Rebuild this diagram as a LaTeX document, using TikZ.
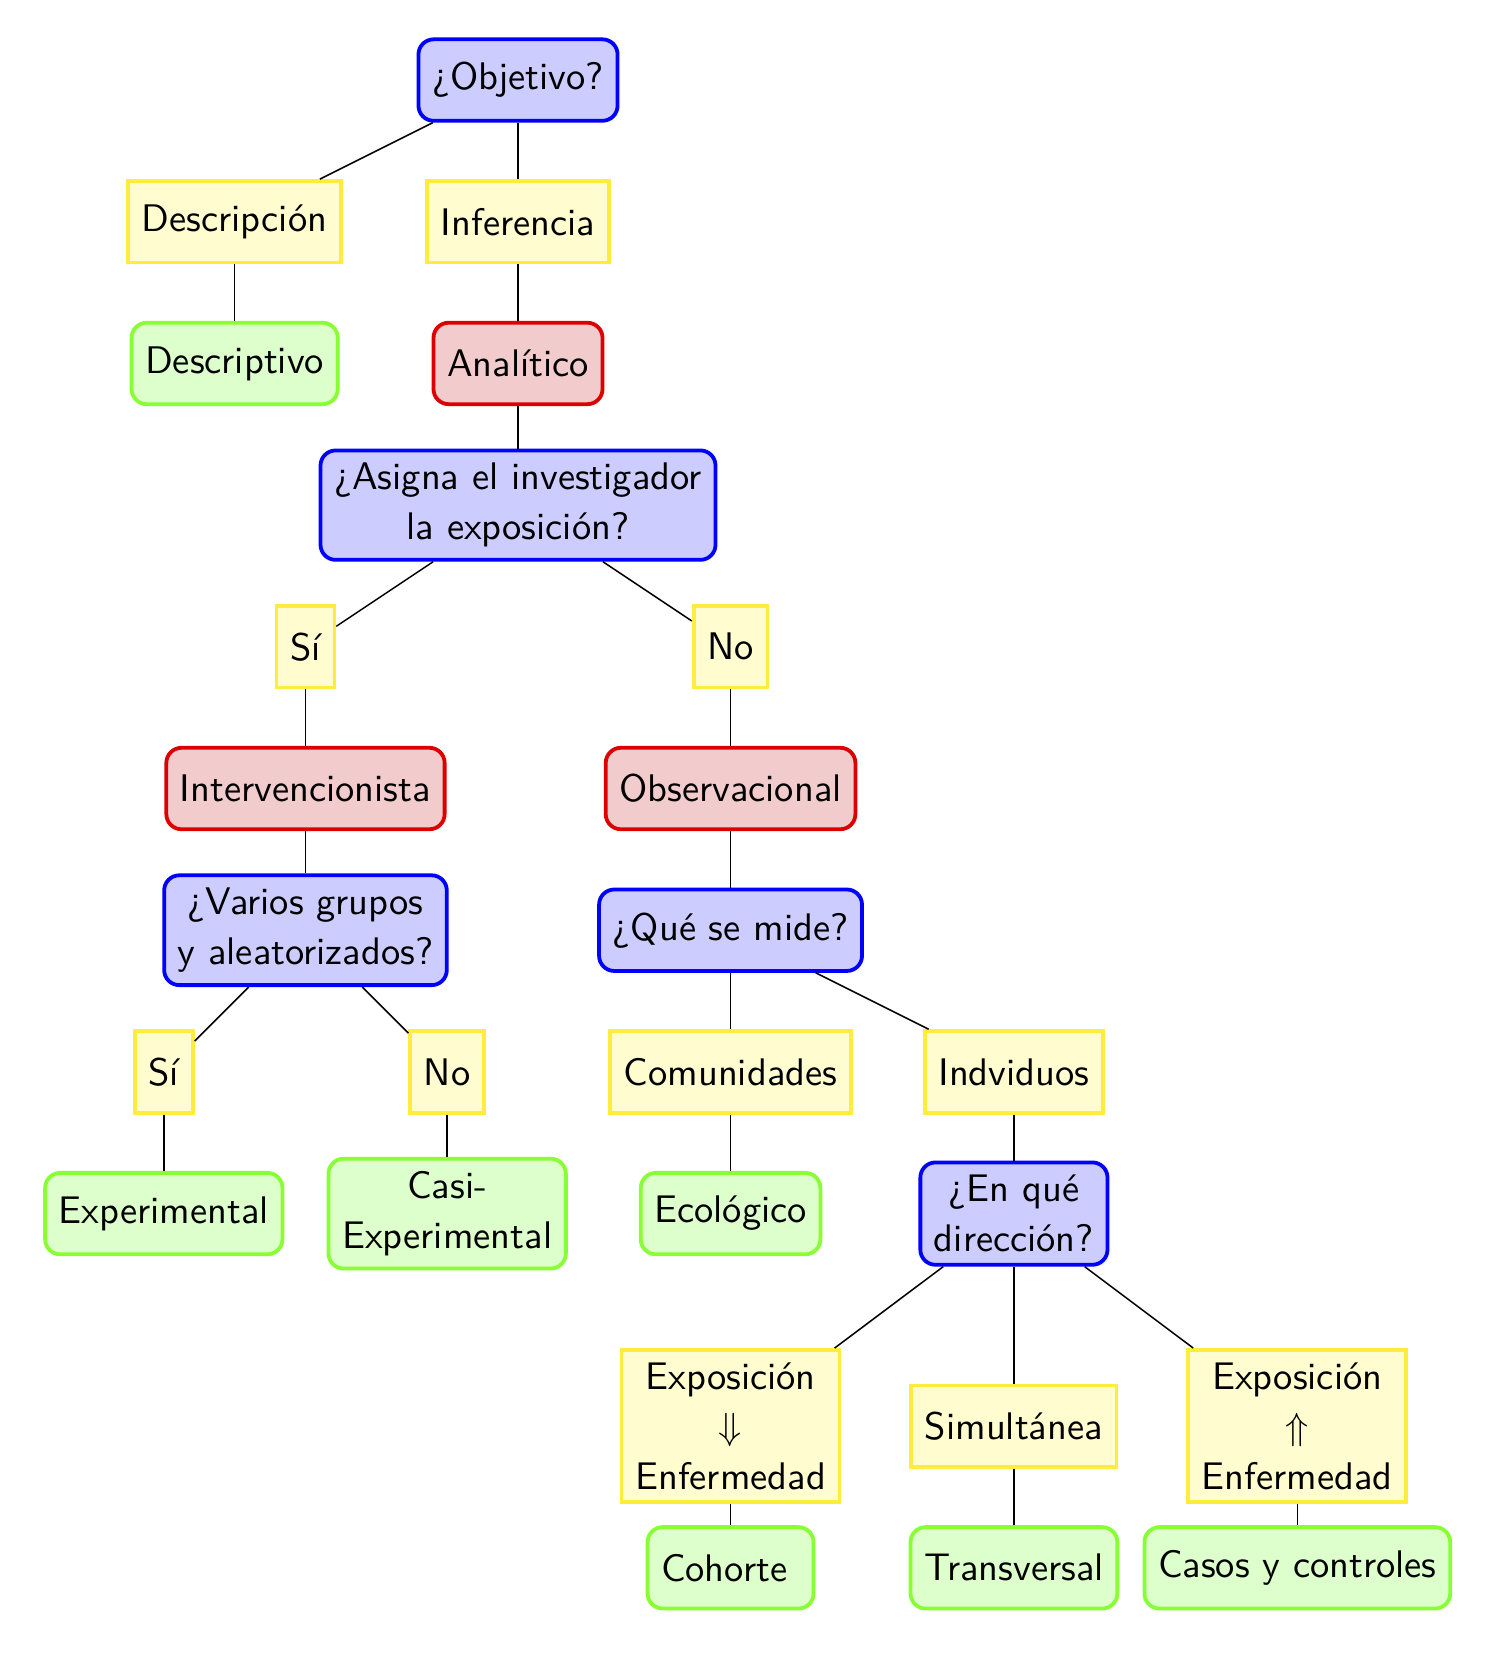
\documentclass[tikz,border=0pt]{standalone}
\definecolor{qblue}{RGB}{0,0,255}
\definecolor{qbluefill}{RGB}{204,204,255}
\definecolor{qyellow}{RGB}{255,236,60}
\definecolor{qyellowfill}{RGB}{255,253,208}
\definecolor{qred}{RGB}{222,0,0}
\definecolor{qredfill}{RGB}{242,204,204}
\definecolor{qgreen}{RGB}{136,255,51}
\definecolor{qgreenfill}{RGB}{221,255,204}
\begin{document}
\begin{tikzpicture}[x=37.4pt,y=37.4pt,
every node/.style={font=\sffamily\fontsize{10.15}{13.2}\selectfont,align=center,minimum height=21.5pt,inner xsep=3.6pt,line width=1pt},
pregunta/.style={draw=qblue,fill=qbluefill,rounded corners},
respuesta/.style={draw=qyellow,fill=qyellowfill},
tipo/.style={draw=qred,fill=qredfill,rounded corners},
diseno/.style={draw=qgreen,fill=qgreenfill,rounded corners}]
\useasboundingbox (-3.656,-11.2) rectangle (6.844,0.565);

\node[pregunta](obj) at (0,0){¿Objetivo?};
\node[respuesta](desc) at (-2,-1){Descripción};
\node[respuesta](inf) at (0,-1){Inferencia};
\node[diseno](descr) at (-2,-2){Descriptivo};
\node[tipo](anal) at (0,-2){Analítico};
\node[pregunta](asig) at (0,-3){¿Asigna el investigador\\la exposición?};

\node[respuesta](si1) at (-1.5,-4){Sí};
\node[respuesta](no1) at (1.5,-4){No};
\node[tipo](interv) at (-1.5,-5){Intervencionista};
\node[tipo](obs) at (1.5,-5){Observacional};
\node[pregunta](varios) at (-1.5,-6){¿Varios grupos\\y aleatorizados?};
\node[pregunta](mide) at (1.5,-6){¿Qué se mide?};

\node[respuesta](si2) at (-2.5,-7){Sí};
\node[respuesta](no2) at (-0.5,-7){No};
\node[respuesta](com) at (1.5,-7){Comunidades};
\node[respuesta](ind) at (3.5,-7){Indviduos};
\node[diseno](exper) at (-2.5,-8){Experimental};
\node[diseno](casi) at (-0.5,-8){Casi-\\Experimental};
\node[diseno](eco) at (1.5,-8){Ecológico};
\node[pregunta](dir) at (3.5,-8){¿En qué\\dirección?};

\node[respuesta](expab) at (1.5,-9.5){Exposición\\$\Downarrow$\\Enfermedad};
\node[respuesta](simul) at (3.5,-9.5){Simultánea};
\node[respuesta](exparr) at (5.5,-9.5){Exposición\\$\Uparrow$\\Enfermedad};
\node[diseno](coh) at (1.5,-10.5){Cohorte\ };
\node[diseno](trans) at (3.5,-10.5){Transversal};
\node[diseno](casos) at (5.5,-10.5){Casos y controles};

\draw(obj)--(desc);
\draw(obj)--(inf);
\draw(desc)--(descr);
\draw(inf)--(anal);
\draw(anal)--(asig);
\draw(asig)--(si1);
\draw(asig)--(no1);
\draw(si1)--(interv);
\draw(no1)--(obs);
\draw(interv)--(varios);
\draw(obs)--(mide);
\draw(varios)--(si2);
\draw(varios)--(no2);
\draw(mide)--(com);
\draw(mide)--(ind);
\draw(si2)--(exper);
\draw(no2)--(casi);
\draw(com)--(eco);
\draw(ind)--(dir);
\draw(dir)--(expab);
\draw(dir)--(simul);
\draw(dir)--(exparr);
\draw(expab)--(coh);
\draw(simul)--(trans);
\draw(exparr)--(casos);
\end{tikzpicture}
\end{document}
